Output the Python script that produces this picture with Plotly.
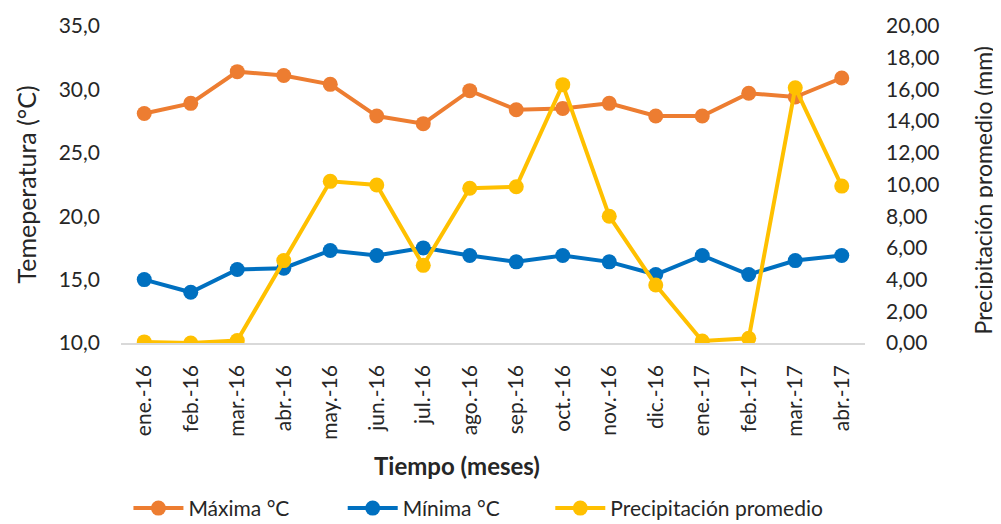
import plotly.graph_objects as go

# Monthly climate data
months = [
    "ene.-16", "feb.-16", "mar.-16", "abr.-16", "may.-16", "jun.-16",
    "jul.-16", "ago.-16", "sep.-16", "oct.-16", "nov.-16", "dic.-16",
    "ene.-17", "feb.-17", "mar.-17", "abr.-17",
]

maxima = [28.1, 28.9, 31.4, 31.1, 30.4, 27.9, 27.3, 29.9,
          28.4, 28.5, 28.9, 27.9, 27.9, 29.7, 29.4, 30.9]

minima = [15.0, 14.0, 15.8, 15.9, 17.3, 16.9, 17.5, 16.9,
          16.4, 16.9, 16.4, 15.4, 16.9, 15.4, 16.5, 16.9]

precipitacion = [0.07, 0.0, 0.15, 5.2, 10.2, 9.97, 4.9, 9.76,
                 9.86, 16.3, 8.0, 3.66, 0.13, 0.3, 16.1, 9.9]

FONT = "Lato"
TEXT = "#262626"


fig = go.Figure()

# Temperature series on the left axis
fig.add_trace(
    go.Scatter(
        x=months,
        y=maxima,
        mode="lines+markers",
        name="Máxima °C",
        legend="legend",
        line=dict(color="#ED7D31", width=4),
        marker=dict(color="#ED7D31", size=15)
    )
)

fig.add_trace(
    go.Scatter(
        x=months,
        y=minima,
        mode="lines+markers",
        name="Mínima °C",
        legend="legend2",
        line=dict(color="#0070C0", width=4),
        marker=dict(color="#0070C0", size=15)
    )
)

# Rainfall on the right axis
fig.add_trace(
    go.Scatter(
        x=months,
        y=precipitacion,
        mode="lines+markers",
        name="Precipitación promedio",
        legend="legend3",
        yaxis="y2",
        line=dict(color="#FFC000", width=4),
        marker=dict(color="#FFC000", size=15)
    )
)


def legend_box(x):
    # one legend per series so the entries sit where Excel put them
    return dict(
        orientation="h",
        x=x,
        xanchor="left",
        y=-0.522,
        yanchor="middle",
        font=dict(size=21, color=TEXT),
        itemwidth=50,
        bgcolor="rgba(0,0,0,0)"
    )


# the page body adds an 8px margin, so the figure is drawn 8px smaller
fig.update_layout(

    width=993,
    height=516,

    margin=dict(l=113, r=136, t=18, b=181, autoexpand=False),

    paper_bgcolor="white",
    plot_bgcolor="white",

    separators=",.",

    font=dict(family=FONT, size=21, color=TEXT),

    showlegend=True,

    legend=legend_box(0.010),
    legend2=legend_box(0.298),
    legend3=legend_box(0.577),

    xaxis=dict(
        type="category",
        range=[-0.5, len(months) - 0.5],
        tickangle=-90,
        showgrid=False,
        showline=True,
        linecolor="#D9D9D9",
        linewidth=1.5,
        ticks="",
        automargin=False,
        tickfont=dict(size=21, color=TEXT),
        ticklabelstandoff=12
    ),

    yaxis=dict(
        range=[10, 35],
        dtick=5,
        tickformat=".1f",
        showgrid=False,
        zeroline=False,
        showline=False,
        ticks="",
        automargin=False,
        tickfont=dict(size=21, color=TEXT),
        ticklabelstandoff=20
    ),

    yaxis2=dict(
        range=[0, 20],
        dtick=2,
        tickformat=".2f",
        overlaying="y",
        side="right",
        showgrid=False,
        zeroline=False,
        showline=False,
        ticks="",
        automargin=False,
        tickfont=dict(size=21, color=TEXT),
        ticklabelstandoff=20
    ),

    annotations=[
        dict(
            text="Temeperatura (°C)",
            xref="paper", yref="paper",
            x=-0.129, y=0.5,
            xanchor="center", yanchor="middle",
            textangle=-90,
            showarrow=False,
            font=dict(size=25, color=TEXT)
        ),
        dict(
            text="Precipitación promedio (mm)",
            xref="paper", yref="paper",
            x=1.158, y=0.48,
            xanchor="center", yanchor="middle",
            textangle=-90,
            showarrow=False,
            font=dict(size=23, color=TEXT)
        ),
        dict(
            text="<b>Tiempo (meses)</b>",
            xref="paper", yref="paper",
            x=0.452, y=-0.385,
            xanchor="center", yanchor="middle",
            showarrow=False,
            font=dict(size=24, color=TEXT)
        ),
    ]

)

fig.write_html("out.html")
